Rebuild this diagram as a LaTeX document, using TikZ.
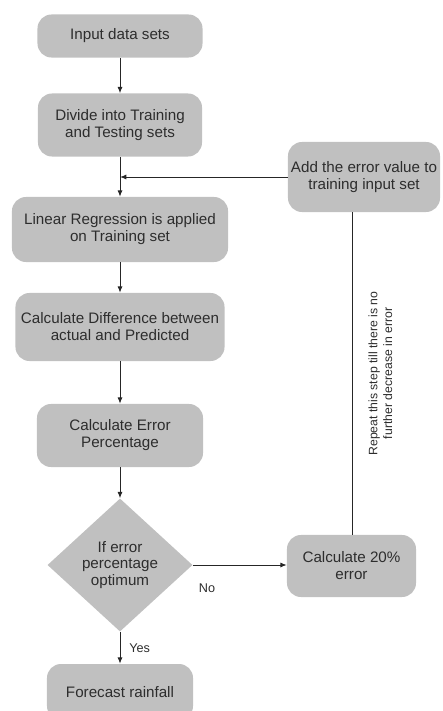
\documentclass[tikz,border=0pt]{standalone}
\usepackage{fontspec}
\setmainfont{Liberation Sans}
\usetikzlibrary{positioning,shapes.geometric,arrows.meta}
\definecolor{boxgray}{RGB}{192,192,192}
\definecolor{txtgray}{RGB}{45,45,45}

\begin{document}
\begin{tikzpicture}[x=0.025cm, y=-0.025cm, font=\fontsize{10.8}{12}\selectfont,
    box/.style={fill=boxgray, rounded corners=0.35cm, align=center, text=txtgray, inner sep=2pt},
    decide/.style={diamond, fill=boxgray, align=center, text=txtgray, inner sep=0pt},
    arr/.style={-{Latex[length=4.5pt,width=3.6pt]}, line width=0.7pt, draw=black!85},
    lbl/.style={text=txtgray, font=\fontsize{9}{10.5}\selectfont}]
      \useasboundingbox (0,0) rectangle (442,711);
      \clip (0,0) rectangle (442,711);
      \node[box, minimum width=4.125cm, minimum height=1.075cm] (inp) at (120,36) {Input data sets};
      \node[box, minimum width=4.1cm, minimum height=1.575cm] (split) at (120,125) {Divide into Training\\and Testing sets};
      \node[box, minimum width=5.4cm, minimum height=1.625cm] (linreg) at (120,229.5) {Linear Regression is applied\\on Training set};
      \node[box, minimum width=5.225cm, minimum height=1.7cm] (diff) at (120,327) {Calculate Difference between\\actual and Predicted};
      \node[box, minimum width=4.15cm, minimum height=1.575cm] (errpct) at (120,435.5) {Calculate Error\\Percentage};
      \node[decide, minimum width=3.625cm, minimum height=3.325cm] (check) at (120,565) {If error\\percentage\\optimum};
      \node[box, minimum width=3.65cm, minimum height=1.4cm] (rain) at (120,692) {Forecast rainfall};
      \node[box, minimum width=3.225cm, minimum height=1.55cm] (err20) at (351.5,566) {Calculate 20\%\\error};
      \node[box, minimum width=3.8cm, minimum height=1.75cm] (adderr) at (364,177) {Add the error value to\\training input set};
      \coordinate (join) at (split.south |- adderr.west);
      \coordinate (up) at (352,0);
      \draw[arr] (inp) -- (split);
      \draw[arr] (split) -- (linreg);
      \draw[arr] (linreg) -- (diff);
      \draw[arr] (diff) -- (errpct);
      \draw[arr] (errpct) -- (check);
      \draw[arr] (check) -- node[lbl, right=3pt] {Yes} (rain);
      \draw[arr] (check.east) -- (check.east -| err20.west);
      \node[lbl] (no) at (207,588) {No};
      \draw[line width=0.7pt, draw=black!85] (up |- err20.north) -- node[lbl, rotate=90, align=center, right=8pt, anchor=north, font=\fontsize{8.7}{10.5}\selectfont] {Repeat this step till there is no\\further decrease in error} (up |- adderr.south);
      \draw[arr] (adderr.west) -- (join);
    \end{tikzpicture}
\end{document}
